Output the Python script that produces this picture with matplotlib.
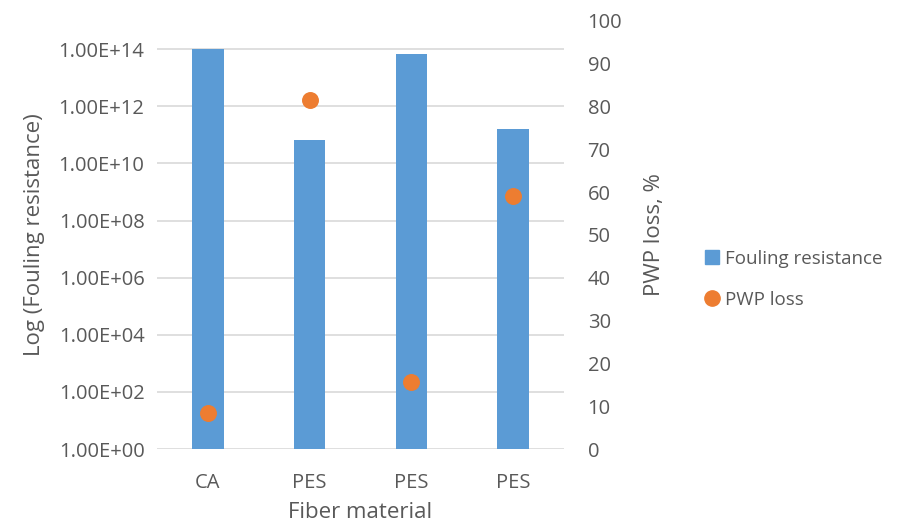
import matplotlib.pyplot as plt
from matplotlib.lines import Line2D

# --- data ---
materials = ["CA", "PES", "PES", "PES"]
fouling_resistance = [1.0e14, 6.6e10, 6.7e13, 1.55e11]
pwp_loss = [8.5, 81.6, 15.6, 59.1]
log_ticks = [1e0, 1e2, 1e4, 1e6, 1e8, 1e10, 1e12, 1e14]
log_tick_labels = ["1.00E+00", "1.00E+02", "1.00E+04", "1.00E+06",
                   "1.00E+08", "1.00E+10", "1.00E+12", "1.00E+14"]
pct_ticks = [0, 10, 20, 30, 40, 50, 60, 70, 80, 90, 100]

BLUE = "#5B9BD5"
ORANGE = "#ED7D31"
GRID = "#D9D9D9"
TEXT = "#595959"

plt.rcParams['font.family'] = ['Open Sans', 'DejaVu Sans']

fig = plt.figure(figsize=(9.05, 5.31), dpi=100)
ax = fig.add_axes([0.1735, 0.1544, 0.4497, 0.8066])

x = list(range(len(materials)))
ax.set_yscale('log')
ax.bar(x, fouling_resistance, width=0.31, color=BLUE, zorder=2)
ax.set_ylim(1, 1e15)
ax.set_xlim(-0.5, len(materials) - 0.5)
ax.set_yticks(log_ticks)
ax.set_yticklabels(log_tick_labels)
ax.minorticks_off()
ax.set_xticks(x)
ax.set_xticklabels(materials)
ax.grid(axis='y', color=GRID, linewidth=1.2, zorder=0)
ax.set_axisbelow(True)
for s in ax.spines.values():
    s.set_visible(False)
ax.tick_params(length=0, labelsize=14.5, colors=TEXT, pad=9)
ax.tick_params(axis='x', pad=17)
ax.set_ylabel("Log (Fouling resistance)", fontsize=16, color=TEXT, labelpad=10)
ax.set_xlabel("Fiber material", fontsize=16, color=TEXT, labelpad=7)

ax2 = ax.twinx()
ax2.scatter(x, pwp_loss, s=125, color=ORANGE, zorder=3)
ax2.set_ylim(0, 100)
ax2.set_yticks(pct_ticks)
for s in ax2.spines.values():
    s.set_visible(False)
ax2.tick_params(length=0, labelsize=14.5, colors=TEXT, pad=17)
ax2.set_ylabel("PWP loss, %", fontsize=16, color=TEXT, labelpad=16)

handles = [
    Line2D([], [], marker='s', linestyle='none', color=BLUE, markersize=10),
    Line2D([], [], marker='o', linestyle='none', color=ORANGE, markersize=11),
]
leg = fig.legend(handles, ["Fouling resistance", "PWP loss"],
                 loc='center left', bbox_to_anchor=(0.76, 0.474),
                 frameon=False, fontsize=13.5, handlelength=0.8,
                 handletextpad=0.3, labelspacing=1.25)
for t in leg.get_texts():
    t.set_color(TEXT)

fig.savefig("out.png", dpi=100)
